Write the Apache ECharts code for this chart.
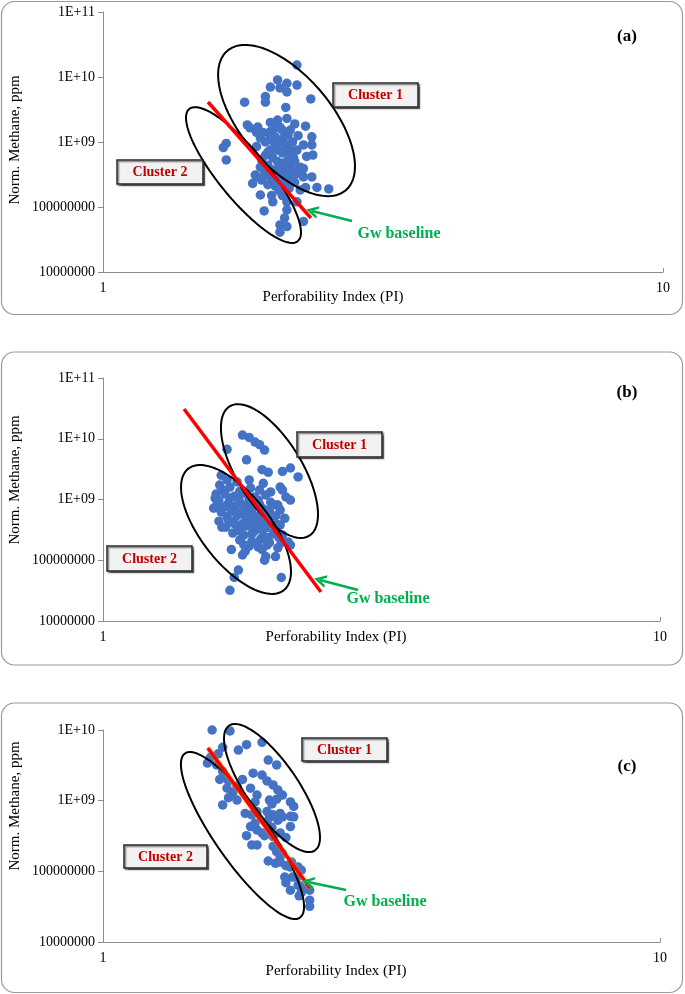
<!DOCTYPE html>
<html>
<head>
<meta charset="utf-8">
<script src="https://cdn.jsdelivr.net/npm/echarts@6/dist/echarts.min.js"></script>
<style>
html,body{margin:0;padding:0;background:#fff;}
#chart{width:685px;height:994px;}
</style>
</head>
<body>
<div id="chart"></div>
<script>
// ---------------- DATA ----------------
// Panel (a)
const piA = [2.22,2.05,2.13,2.22,1.99,2.07,2.13,1.79,1.95,1.95,2.35,2.12,2.13,1.81,1.83,1.89,1.99,2.05,2.07,2.20,2.30,1.88,1.93,1.99,2.03,2.16,2.36,2.36,1.66,1.64,1.66,1.88,2.37,2.31,2.22,2.25,2.28,1.91,1.93,1.87,1.89,1.85,1.97,2.16,2.22,2.28,2.36,2.41,2.53,2.09,2.00,2.01,1.94,2.13,2.22,2.13,2.11,2.07,2.13,2.28,2.07,
  2.00,2.05,2.10,2.12,2.18,2.05,2.09,2.14,2.19,2.01,2.05,2.11,2.16,1.97,2.02,2.07,2.12,2.18,1.95,2.00,2.04,2.09,2.20,1.92,2.03,2.15,1.99,1.95,2.09,2.04,1.95,1.91,2.23,2.28,2.25,2.30,1.91,2.09,
  2.03,1.97,2.11,2.16,2.20,2.07,2.12,2.01,2.19,2.14,2.06,1.99,2.14,1.92];
const methA = [1.53e10,9.0e9,8.0e9,7.5e9,7.0e9,6.8e9,5.9e9,4.1e9,5.0e9,4.1e9,4.6e9,3.4e9,2.3e9,1.83e9,1.65e9,1.7e9,2.0e9,2.18e9,1.7e9,1.9e9,1.75e9,1.4e9,1.4e9,1.45e9,1.2e9,1.53e9,1.2e9,9.0e8,9.5e8,8.2e8,5.3e8,8.5e8,6.3e8,6.0e8,7.5e8,4.1e8,3.9e8,4.1e8,3.9e8,3.1e8,2.9e8,2.3e8,2.2e8,2.9e8,3.3e8,2.9e8,2.9e8,2.0e8,1.9e8,2.3e8,1.5e8,1.2e8,8.7e7,1.2e8,1.2e8,9.0e7,6.8e7,5.3e7,5.0e7,6.0e7,4.1e7,
  1.07e9,9.7e8,1.15e9,9.0e8,1.0e9,7.5e8,6.8e8,6.3e8,5.7e8,5.7e8,5.0e8,4.8e8,4.8e8,4.4e8,3.7e8,3.5e8,3.7e8,3.7e8,3.1e8,2.8e8,2.6e8,2.8e8,2.4e8,2.6e8,2.1e8,1.95e8,7.5e8,6.3e8,1.53e9,1.65e9,1.0e9,1.15e9,1.25e9,9.0e8,1.83e8,2.0e8,1.53e8,1.5e8,
  9.0e8,7.0e8,7.5e8,7.5e8,5.0e8,4.3e8,3.2e8,3.5e8,3.0e8,2.5e8,1.8e8,1.2e9,1.28e9,5.3e8];

// Panel (b)
const piB = [1.78,1.83,1.875,1.91,1.95,1.67,1.81,1.93,1.98,2.10,2.17,2.24,2.08,2.10,2.13,2.17,1.63,1.67,1.69,1.74,1.83,1.94,1.91,1.62,1.64,1.59,1.60,2.06,2.12,2.08,2.10,2.15,2.17,1.70,1.78,1.80,1.96,2.04,1.95,1.75,1.72,1.69,2.09,1.76,1.84,2.00,
  1.656,1.72,1.79,1.87,1.96,1.615,1.68,1.755,1.83,1.90,2.00,1.65,1.73,1.81,1.88,1.94,2.05,1.63,1.70,1.77,1.85,1.92,1.99,1.67,1.74,1.81,1.88,1.94,2.045,1.615,1.70,1.78,1.85,1.905,1.99,1.66,1.75,1.81,1.88,1.96,2.03,1.71,1.79,1.86,1.94,2.02,1.76,1.85,1.92,1.99,2.07,1.83,1.90,1.97,2.06,
  1.596,1.69,1.79,1.71,1.86,1.68,1.80,1.93,1.85,1.76,1.975,1.895,2.09,2.08,2.05,1.58,1.635,1.72,1.83,1.91,1.96,2.01,1.875,1.79,1.93];
const methB = [1.15e10,1.05e10,8.8e9,8.0e9,6.5e9,6.7e9,4.5e9,3.1e9,2.8e9,2.9e9,3.3e9,2.35e9,1.6e9,1.43e9,1.1e9,9.8e8,2.5e9,2.1e9,1.6e9,1.95e9,2.1e9,1.85e9,1.43e9,1.73e9,1.43e9,1.05e9,8.1e8,8.1e8,4.9e8,3.8e8,2.6e8,2.0e8,1.78e8,1.5e8,1.22e8,1.4e8,1.15e8,1.15e8,1.0e8,6.9e7,5.2e7,3.2e7,5.2e7,1.36e9,1.55e9,1.33e9,
  1.23e9,1.13e9,1.28e9,1.10e9,1.19e9,9.5e8,8.7e8,9.8e8,9.0e8,9.8e8,9.0e8,7.5e8,7.8e8,7.2e8,7.8e8,7.0e8,8.1e8,6.2e8,6.5e8,6.0e8,6.5e8,5.8e8,6.7e8,5.2e8,5.4e8,4.8e8,5.2e8,4.6e8,5.4e8,4.4e8,4.3e8,4.0e8,4.4e8,3.8e8,4.1e8,3.5e8,3.25e8,3.65e8,3.15e8,3.4e8,3.0e8,2.8e8,2.6e8,2.9e8,2.5e8,2.7e8,2.15e8,2.05e8,2.25e8,1.95e8,2.35e8,1.7e8,1.65e8,1.78e8,1.6e8,
  1.23e9,1.05e9,8.1e8,7.1e8,5.4e8,4.6e8,5.4e8,3.3e8,2.7e8,3.0e8,2.35e8,1.95e8,1.95e8,6.7e8,3.9e8,7.2e8,3.5e8,4.0e8,1.05e9,8.3e8,5.0e8,5.4e8,3.7e8,1.8e8,1.5e8];

// Panel (c)
const piC = [1.57,1.69,1.93,1.81,1.75,1.64,1.61,1.56,1.54,1.98,2.05,1.60,1.64,1.66,1.68,1.86,1.93,1.97,2.02,2.06,2.10,2.17,2.20,1.78,1.74,1.84,1.71,1.68,1.74,1.64,1.89,1.875,1.99,2.01,2.05,1.80,1.85,1.89,1.97,2.02,1.99,2.08,2.17,2.20,2.17,1.875,1.89,1.84,1.81,1.85,1.93,1.95,2.02,2.08,2.02,2.05,2.08,1.98,2.04,2.08,2.13,2.17,2.24,2.27,2.18,2.12,2.13,2.17,2.19,2.23,2.24,2.26,2.27,2.25,2.35,2.35,2.35,2.33,1.97,2.06,2.10,2.01,1.89,2.06,2.10,2.13,1.62,1.67];
const methC = [1.0e10,9.7e9,6.7e9,6.2e9,5.2e9,5.7e9,4.6e9,4.1e9,3.4e9,3.76e9,3.2e9,3.2e9,2.6e9,2.2e9,1.9e9,2.45e9,2.3e9,1.9e9,1.67e9,1.42e9,1.2e9,9.6e8,8.3e8,2.0e9,1.6e9,1.5e9,1.3e9,1.1e9,1.02e9,8.7e8,1.2e9,9.6e8,1.02e9,9.0e8,1.05e9,6.6e8,6.3e8,7.0e8,7.0e8,6.3e8,5.8e8,6.6e8,6.0e8,5.9e8,4.3e8,4.8e8,3.85e8,4.3e8,3.2e8,2.36e8,3.5e8,3.2e8,3.1e8,3.5e8,2.25e8,1.9e8,1.6e8,1.4e8,1.3e8,1.35e8,1.2e8,1.15e8,1.15e8,1.04e8,1.35e8,8.3e7,6.9e7,5.4e7,8.3e7,8.3e7,6.4e7,6.2e7,5.0e7,4.5e7,5.4e7,3.9e7,3.2e7,5.8e7,5.0e8,5.3e8,5.9e8,4.2e8,2.36e8,2.2e8,1.8e8,3.0e8,2.0e9,1.5e9];

// Groundwater baseline lines [PI, methane]
const baselineA = [[1.54, 4.12e9], [2.351, 6.77e7]];
const baselineB = [[1.398, 3.09e10], [2.462, 3.0e7]];
const baselineC = [[1.543, 5.56e9], [2.353, 5.81e7]];

// Cluster outlines (center, tip of one semi-diameter, tip of the conjugate one) [PI, methane]
const clusterA1 = {center:[2.127,2.14e9], major:[2.714,1.81e8], minor:[2.448,6.03e9]};
const clusterA2 = {center:[1.782,3.10e8], major:[2.228,2.98e7], minor:[1.926,5.38e8]};
const clusterB1 = {center:[1.990,2.94e9], major:[2.346,2.53e8], minor:[2.232,5.61e9]};
const clusterB2 = {center:[1.733,3.21e8], major:[2.111,3.20e7], minor:[1.940,7.21e8]};
const clusterC1 = {center:[2.011,1.51e9], major:[2.403,1.98e8], minor:[2.195,2.44e9]};
const clusterC2 = {center:[1.780,3.21e8], major:[2.258,2.21e7], minor:[1.949,5.29e8]};

// Arrows pointing at the baseline: [tail, tip]
const arrowA = [[2.784, 6.09e7], [2.361, 8.67e7]];
const arrowB = [[2.871, 3.24e7], [2.452, 4.73e7]];
const arrowC = [[2.732, 5.45e7], [2.334, 7.06e7]];

const xTickLabels = ['1', '10'];
const panelLabels = ['(a)', '(b)', '(c)'];

// ---------------- BUILD ----------------
function pairs(xs, ys){ return xs.map((x,i)=>[x, ys[i]]); }
function outline(e){
  const c=[Math.log10(e.center[0]), Math.log10(e.center[1])];
  const u=[Math.log10(e.major[0])-c[0], Math.log10(e.major[1])-c[1]];
  const v=[Math.log10(e.minor[0])-c[0], Math.log10(e.minor[1])-c[1]];
  const pts=[];
  for(let i=0;i<=144;i++){
    const t=i/144*2*Math.PI;
    pts.push([Math.pow(10,c[0]+u[0]*Math.cos(t)+v[0]*Math.sin(t)), Math.pow(10,c[1]+u[1]*Math.cos(t)+v[1]*Math.sin(t))]);
  }
  return pts;
}
const FONT='"Liberation Serif", "Times New Roman", serif';
function yFmt(v){
  const e=Math.round(Math.log10(v));
  if(e>=9) return '1E+'+(e<10?'0':'')+e;
  return String(Math.round(v));
}
function xFmt(v){
  const e=Math.round(Math.log10(v));
  return xTickLabels[e] !== undefined ? xTickLabels[e] : String(v);
}
const grids=[
  {left:103, top:12, width:560, height:260},
  {left:103, top:378, width:557, height:243},
  {left:103, top:730, width:557, height:212}
];
const yMax=[1e11,1e11,1e10];
const axisColor='#8c8c8c';
const xAxes=grids.map((g,i)=>({
  type:'log', logBase:10, gridIndex:i, min:1, max:10,
  axisLine:{show:true, lineStyle:{color:axisColor, width:1}},
  axisTick:{show:true, inside:true, length:4, lineStyle:{color:axisColor}},
  splitLine:{show:false},
  axisLabel:{formatter:xFmt, fontFamily:FONT, fontSize:14, color:'#000', margin:9}
}));
const yAxes=grids.map((g,i)=>({
  type:'log', logBase:10, gridIndex:i, min:1e7, max:yMax[i], splitNumber:i===2?3:4,
  axisLine:{show:true, lineStyle:{color:axisColor, width:1}},
  axisTick:{show:true, inside:false, length:5, lineStyle:{color:axisColor}},
  splitLine:{show:false},
  axisLabel:{formatter:yFmt, fontFamily:FONT, fontSize:14, color:'#000', margin:8}
}));
const scat=[pairs(piA,methA), pairs(piB,methB), pairs(piC,methC)];
const bases=[baselineA, baselineB, baselineC];
const clusters=[[clusterA1,clusterA2],[clusterB1,clusterB2],[clusterC1,clusterC2]];
const arrows=[arrowA, arrowB, arrowC];
const chevron='path://M5,0 L10,8.5 L7.8,8.5 L5,3.6 L2.2,8.5 L0,8.5 Z';
const series=[];
for(let i=0;i<3;i++){
  series.push({type:'scatter', xAxisIndex:i, yAxisIndex:i, data:scat[i], symbolSize:9.5, clip:false,
    itemStyle:{color:'#4472c4', opacity:1}, silent:true, z:2});
  clusters[i].forEach(e=>series.push({type:'line', xAxisIndex:i, yAxisIndex:i, data:outline(e), showSymbol:false, symbol:'none', clip:false,
    lineStyle:{color:'#000', width:2}, silent:true, z:3}));
  const ls={color:'#ff0000', width:3.5};
  if(i===2){ ls.shadowColor='rgba(255,150,0,0.9)'; ls.shadowBlur=3; }
  series.push({type:'line', xAxisIndex:i, yAxisIndex:i, data:bases[i], showSymbol:false, symbol:'none', clip:false,
    lineStyle:ls, silent:true, z:4,
    markLine:{silent:true, animation:false, symbol:['none', chevron], symbolSize:[13,12],
      label:{show:false}, lineStyle:{color:'#00b050', width:2.5, type:'solid'},
      emphasis:{disabled:true},
      data:[[{coord:arrows[i][0]},{coord:arrows[i][1]}]]}});
}
// ---------- decorations ----------
function txt(x,y,text,size,opts){
  opts=opts||{};
  return {type:'text', x:x, y:y, rotation:opts.rot||0, z:opts.z||50, silent:true,
    style:{text:text, fontFamily:FONT, fontSize:size, fontWeight:opts.bold?'bold':'normal', fill:opts.color||'#000',
      align:'center', verticalAlign:'middle', textAlign:'center', textVerticalAlign:'middle'}};
}
function box(x,y,w,h,label){
  return [
    {type:'rect', z:60, silent:true, shape:{x:x,y:y,width:w,height:h},
      style:{fill:'#f2f2f2', stroke:'#262626', lineWidth:1.5, shadowColor:'rgba(0,0,0,0.45)', shadowOffsetX:1.5, shadowOffsetY:1.5, shadowBlur:1}},
    txt(x+w/2, y+h/2+0.5, label, 14, {bold:true, color:'#c00000', z:61})
  ];
}
const frames=[[1.5,1.5,681,313],[1.5,352,681,313],[1.5,703,681,289.5]];
const graphic=[];
frames.forEach(f=>graphic.push({type:'rect', z:-10, silent:true, shape:{x:f[0],y:f[1],width:f[2],height:f[3],r:13},
  style:{fill:'none', stroke:'#9a9a9a', lineWidth:1.2}}));
graphic.push(txt(15,140,'Norm. Methane, ppm',15,{rot:Math.PI/2}));
graphic.push(txt(15,480,'Norm. Methane, ppm',15,{rot:Math.PI/2}));
graphic.push(txt(15,806,'Norm. Methane, ppm',15,{rot:Math.PI/2}));
graphic.push(txt(333,297,'Perforability Index (PI)',15));
graphic.push(txt(336,637,'Perforability Index (PI)',15));
graphic.push(txt(336,971,'Perforability Index (PI)',15));
graphic.push(txt(627,37,panelLabels[0],17,{bold:true}));
graphic.push(txt(627,393,panelLabels[1],17,{bold:true}));
graphic.push(txt(627,767,panelLabels[2],17,{bold:true}));
graphic.push(...box(333,83,85,24,'Cluster 1'));
graphic.push(...box(117,160,86,24,'Cluster 2'));
graphic.push(...box(297,432,85,25,'Cluster 1'));
graphic.push(...box(107,546,85,25,'Cluster 2'));
graphic.push(...box(302,738,85,23,'Cluster 1'));
graphic.push(...box(124,845,83,23,'Cluster 2'));
graphic.push(txt(399,234,'Gw baseline',16,{bold:true,color:'#00b050'}));
graphic.push(txt(388,599,'Gw baseline',16,{bold:true,color:'#00b050'}));
graphic.push(txt(385,902,'Gw baseline',16,{bold:true,color:'#00b050'}));

const chart=echarts.init(document.getElementById('chart'), null, {renderer:'canvas'});
chart.setOption({
  animation:false,
  backgroundColor:'#fff',
  grid:grids,
  xAxis:xAxes,
  yAxis:yAxes,
  series:series,
  graphic:graphic
});
</script>
</body>
</html>
